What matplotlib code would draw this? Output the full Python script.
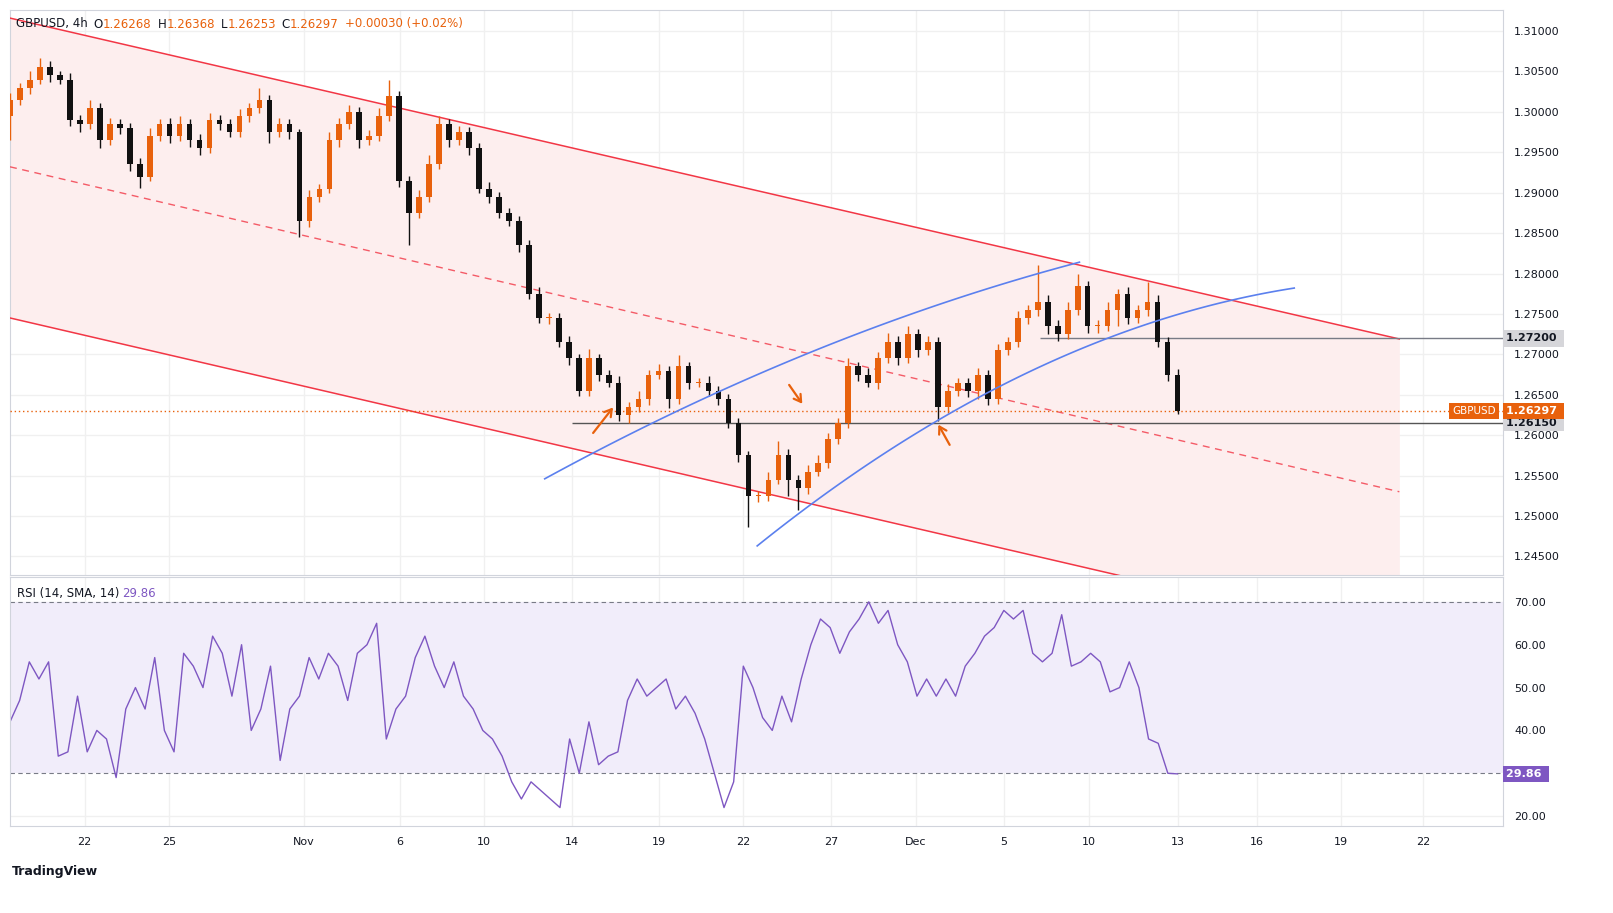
import numpy as np
import matplotlib.pyplot as plt
from matplotlib.patches import Rectangle

ORANGE = "#e8610c"
BLACK = "#111111"
RED = "#f23645"
BLUE = "#5b80ee"
PURPLE = "#7e57c2"
GRID = "#f0f0f0"

# 4h closes (approx, one every ~2 bars)
closes = [1.3015, 1.3030, 1.3040, 1.3055, 1.3045, 1.3040, 1.2990, 1.2985, 1.3005, 1.2965,
          1.2985, 1.2980, 1.2935, 1.2920, 1.2970, 1.2985, 1.2970, 1.2985, 1.2965, 1.2955,
          1.2990, 1.2985, 1.2975, 1.2995, 1.3005, 1.3015, 1.2975, 1.2985, 1.2975, 1.2865,
          1.2895, 1.2905, 1.2965, 1.2985, 1.3000, 1.2965, 1.2970, 1.2995, 1.3020, 1.2915,
          1.2875, 1.2895, 1.2935, 1.2985, 1.2965, 1.2975, 1.2955, 1.2905, 1.2895, 1.2875,
          1.2865, 1.2835, 1.2775, 1.2745, 1.2745, 1.2715, 1.2695, 1.2655, 1.2695, 1.2675,
          1.2665, 1.2625, 1.2635, 1.2645, 1.2675, 1.2680, 1.2645, 1.2685, 1.2665, 1.2665,
          1.2655, 1.2645, 1.2615, 1.2575, 1.2525, 1.2525, 1.2545, 1.2575, 1.2545, 1.2535,
          1.2555, 1.2565, 1.2595, 1.2615, 1.2685, 1.2675, 1.2665, 1.2695, 1.2715, 1.2695,
          1.2725, 1.2705, 1.2715, 1.2635, 1.2655, 1.2665, 1.2655, 1.2675, 1.2645, 1.2705,
          1.2715, 1.2745, 1.2755, 1.2765, 1.2735, 1.2725, 1.2755, 1.2785, 1.2735, 1.2735,
          1.2755, 1.2775, 1.2745, 1.2755, 1.2765, 1.2715, 1.2675, 1.26297]
first_open = 1.2995
# wick extensions beyond the body, in pips
wick_hi = [8, 6, 10, 12, 8, 6, 8, 6, 10, 6, 8, 6, 6, 8, 10, 6, 8, 10, 6, 8,
           8, 6, 6, 8, 6, 14, 6, 8, 6, 4, 8, 6, 10, 8, 8, 6, 8, 10, 20, 6,
           6, 8, 12, 10, 6, 8, 6, 6, 8, 6, 6, 6, 6, 8, 6, 6, 8, 6, 12, 6,
           6, 8, 6, 10, 6, 8, 6, 14, 6, 6, 8, 6, 6, 6, 6, 6, 10, 18, 8, 6,
           8, 10, 8, 6, 10, 6, 8, 8, 12, 8, 10, 6, 8, 6, 8, 6, 6, 8, 6, 8,
           6, 8, 6, 45, 8, 8, 10, 14, 6, 8, 10, 6, 8, 6, 25, 8, 6, 7]
wick_lo = [30, 6, 8, 6, 8, 6, 8, 10, 6, 10, 6, 8, 8, 14, 6, 6, 8, 6, 8, 8,
           6, 8, 6, 6, 8, 6, 14, 6, 8, 20, 8, 6, 6, 8, 6, 10, 6, 6, 6, 8,
           40, 6, 6, 6, 8, 6, 8, 6, 8, 6, 6, 8, 6, 6, 8, 6, 8, 6, 6, 8,
           6, 8, 10, 6, 8, 6, 12, 6, 8, 6, 6, 8, 6, 8, 38, 8, 6, 6, 20, 27,
           8, 6, 6, 6, 6, 8, 6, 8, 6, 8, 6, 8, 6, 18, 8, 6, 8, 10, 8, 6,
           6, 6, 8, 8, 10, 8, 6, 6, 8, 8, 6, 20, 8, 6, 8, 6, 8, 4]

rsi = [42, 47, 56, 52, 56, 34, 35, 48, 35, 40, 38, 29, 45, 50, 45, 57, 40, 35, 58, 55,
       50, 62, 58, 48, 60, 40, 45, 55, 33, 45, 48, 57, 52, 58, 55, 47, 58, 60, 65, 38,
       45, 48, 57, 62, 55, 50, 56, 48, 45, 40, 38, 34, 28, 24, 28, 26, 24, 22, 38, 30,
       42, 32, 34, 35, 47, 52, 48, 50, 52, 45, 48, 44, 38, 30, 22, 28, 55, 50, 43, 40,
       48, 42, 52, 60, 66, 64, 58, 63, 66, 70, 65, 68, 60, 56, 48, 52, 48, 52, 48, 55,
       58, 62, 64, 68, 66, 68, 58, 56, 58, 67, 55, 56, 58, 56, 49, 50, 56, 50, 38, 37,
       30, 29.86]

price_ticks = np.round(np.arange(1.245, 1.3101, 0.005), 3)
rsi_ticks = [20, 40, 50, 60, 70]
date_labels = ["22", "25", "Nov", "6", "10", "14", "19", "22", "27", "Dec", "5", "10", "13", "16", "19", "22"]
date_pos = [16, 34, 63, 83.5, 101.5, 120.3, 139, 157, 175.8, 194, 212.8, 231, 250, 267, 285, 302.6]

# channel (bar, price)
ch_x = [0, 297.5]
ch_upper = [1.3116, 1.2719]
ch_mid = [1.2932, 1.2530]
ch_lower = [1.2745, 1.2346]
arc1 = [(114.5, 1.2546), (212, 1.2786), (229, 1.2814)]
arc2 = [(160, 1.2463), (198, 1.2616), (275, 1.2782)]
lvl_hi, lvl_lo, last = 1.2720, 1.2615, 1.26297

XMAX = 319.7
fig = plt.figure(figsize=(16.13, 9.13), dpi=100)
ax = fig.add_axes([10 / 1613, 338 / 913, 1493 / 1613, 565 / 913])
ar = fig.add_axes([10 / 1613, 87 / 913, 1493 / 1613, 249 / 913])

n = len(closes)
bx = np.linspace(0, 250, n)
opens = [first_open] + closes[:-1]
for i in range(n):
    o, c = opens[i], closes[i]
    col = ORANGE if c >= o else BLACK
    hi = max(o, c) + wick_hi[i] * 1e-4
    lo = min(o, c) - wick_lo[i] * 1e-4
    ax.vlines(bx[i], lo, hi, color=col, lw=1, zorder=4)
    ax.add_patch(Rectangle((bx[i] - 0.6, min(o, c)), 1.2, max(abs(c - o), 0.00008),
                           color=col, zorder=5, lw=0))

# channel
xs = np.array(ch_x)
ax.fill_between(xs, ch_lower, ch_upper, color="#fdeeee", zorder=1, lw=0)
ax.plot(xs, ch_upper, color=RED, lw=1.1, zorder=3)
ax.plot(xs, ch_lower, color=RED, lw=1.1, zorder=3)
ax.plot(xs, ch_mid, color=RED, lw=1, ls=(0, (5, 4)), zorder=3, alpha=0.8)

for arc in (arc1, arc2):
    px, py = zip(*arc)
    coef = np.polyfit(px, py, 2)
    t = np.linspace(px[0], px[-1], 100)
    ax.plot(t, np.polyval(coef, t), color=BLUE, lw=1.2, zorder=6)

ax.hlines(lvl_hi, 220.5, XMAX, color="#787b86", lw=1, zorder=3)
ax.hlines(lvl_lo, 120.3, XMAX, color="#555555", lw=1, zorder=3)
ax.axhline(last, color=ORANGE, lw=1, ls=(0, (1, 2)), zorder=3)

# arrows
akw = dict(arrowstyle="->,head_length=0.5,head_width=0.3", color=ORANGE, lw=1.6)
ax.annotate("", xy=(129.5, 1.2637), xytext=(124.5, 1.2600), arrowprops=akw)
ax.annotate("", xy=(170, 1.2636), xytext=(166.5, 1.2665), arrowprops=akw)
ax.annotate("", xy=(198.5, 1.2616), xytext=(201.5, 1.2585), arrowprops=akw)

ax.set_xlim(0, XMAX)
ax.set_ylim(1.2427, 1.3126)
ax.set_yticks(price_ticks)
ax.set_yticklabels([f"{v:.5f}" for v in price_ticks])
ax.yaxis.tick_right()
ax.set_xticks(date_pos)
ax.set_xticklabels([])
ax.grid(True, color=GRID, lw=1)
ax.set_axisbelow(True)
ax.tick_params(length=0, labelsize=8, colors="#131722", pad=8)

def tag(a, y, text, fc, tc):
    a.text(1.002, y, text, transform=a.get_yaxis_transform(), fontsize=8, color=tc,
           va="center", ha="left", fontweight="bold",
           bbox=dict(boxstyle="square,pad=0.3", fc=fc, ec="none"))

tag(ax, lvl_hi, "1.27200 ", "#d6d6da", "#131722")
tag(ax, lvl_lo, "1.26150 ", "#d6d6da", "#131722")
tag(ax, last, "1.26297 ", ORANGE, "white")
ax.text(0.995, last, "GBPUSD", transform=ax.get_yaxis_transform(), fontsize=7.5,
        color="white", va="center", ha="right",
        bbox=dict(boxstyle="square,pad=0.3", fc=ORANGE, ec="none"))

# header, placed piece by piece
hdr = [("GBPUSD, 4h", "#131722", 6), ("O", "#131722", 0), ("1.26268", ORANGE, 6),
       ("H", "#131722", 0), ("1.26368", ORANGE, 6), ("L", "#131722", 0),
       ("1.26253", ORANGE, 6), ("C", "#131722", 0), ("1.26297", ORANGE, 6),
       ("+0.00030 (+0.02%)", ORANGE, 0)]
renderer = fig.canvas.get_renderer()
xpix = 16
for s, c, gap in hdr:
    t = fig.text(xpix / 1613, 1 - 24 / 913, s, fontsize=8.5, color=c, va="center")
    xpix += t.get_window_extent(renderer).width + gap

# RSI
rx = np.linspace(0, 250, len(rsi))
ar.fill_between([0, XMAX], 30, 70, color="#f1edfa", lw=0)
ar.axhline(70, color="#787b86", lw=0.8, ls=(0, (4, 3)))
ar.axhline(30, color="#787b86", lw=0.8, ls=(0, (4, 3)))
ar.plot(rx, rsi, color=PURPLE, lw=1)
ar.set_xlim(0, XMAX)
ar.set_ylim(17.7, 75.8)
ar.set_yticks(rsi_ticks)
ar.set_yticklabels([f"{v:.2f}" for v in rsi_ticks])
ar.yaxis.tick_right()
ar.set_xticks(date_pos)
ar.set_xticklabels(date_labels)
ar.grid(True, color=GRID, lw=1)
ar.set_axisbelow(True)
ar.tick_params(length=0, labelsize=8, colors="#131722", pad=8)
tag(ar, rsi[-1], "29.86 ", PURPLE, "white")
ar.text(0.005, 0.96, "RSI (14, SMA, 14)", transform=ar.transAxes, fontsize=8.5,
        color="#131722", va="top")
ar.text(0.075, 0.96, "29.86", transform=ar.transAxes, fontsize=8.5, color=PURPLE, va="top")

for a in (ax, ar):
    for s in a.spines.values():
        s.set_color("#d1d4dc")
        s.set_linewidth(0.8)

fig.text(12 / 1613, 1 - 871 / 913, "TradingView", fontsize=9, color="#131722",
         va="center", fontweight="bold")

fig.savefig("out.png", dpi=100, facecolor="white")
